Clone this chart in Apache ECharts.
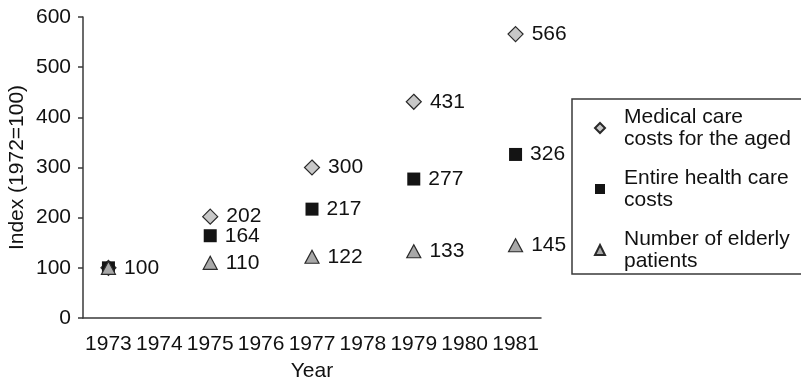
<!DOCTYPE html>
<html>
<head>
<meta charset="utf-8">
<script src="https://cdn.jsdelivr.net/npm/echarts@6/dist/echarts.min.js"></script>
<style>
  html, body { margin: 0; padding: 0; background: #fff; }
  #chart { width: 801px; height: 379px; }
</style>
</head>
<body>
<div id="chart"></div>
<script>
// Years on the category axis
const years = ['1973', '1974', '1975', '1976', '1977', '1978', '1979', '1980', '1981'];
// Index values (1972 = 100), observed every second year
const obsYears = ['1973', '1975', '1977', '1979', '1981'];
const medicalAged = [100, 202, 300, 431, 566];
const healthCare = [100, 164, 217, 277, 326];
const elderlyPatients = [100, 110, 122, 133, 145];
const yTicks = [0, 100, 200, 300, 400, 500, 600];

const FONT = '"Liberation Sans", Arial, sans-serif';
const FS = 21;
const TEXT = '#111';
const AXIS = '#3a3a3a';

// The 1973 value is shared by all three series, so it is labelled once
function points(values, labelFirst) {
  return values.map((v, i) => {
    const item = { value: [obsYears[i], v] };
    if (i === 0 && !labelFirst) item.label = { show: false };
    return item;
  });
}

const labelStyle = {
  show: true,
  position: 'right',
  distance: 8,
  fontFamily: FONT,
  fontSize: FS,
  color: TEXT
};

const chart = echarts.init(document.getElementById('chart'), null, { renderer: 'canvas' });
chart.setOption({
  animation: false,
  textStyle: { fontFamily: FONT, color: TEXT },
  grid: { left: 83, right: 260, top: 17, bottom: 61, containLabel: false, outerBoundsMode: 'none' },
  xAxis: {
    type: 'category',
    data: years,
    boundaryGap: true,
    name: 'Year',
    nameLocation: 'middle',
    nameGap: 43,
    nameMoveOverlap: false,
    nameTextStyle: { fontFamily: FONT, fontSize: FS, color: TEXT },
    axisLine: { lineStyle: { color: AXIS, width: 1.5 } },
    axisTick: { length: 5, lineStyle: { color: AXIS, width: 1.5 } },
    axisLabel: { fontFamily: FONT, fontSize: FS, color: TEXT, margin: 16, interval: 0 },
    splitLine: { show: false }
  },
  yAxis: {
    type: 'value',
    min: yTicks[0],
    max: yTicks[yTicks.length - 1],
    interval: yTicks[1] - yTicks[0],
    name: 'Index (1972=100)',
    nameLocation: 'middle',
    nameGap: 55,
    nameMoveOverlap: false,
    nameTextStyle: { fontFamily: FONT, fontSize: FS, color: TEXT },
    axisLine: { show: true, lineStyle: { color: AXIS, width: 1.5 } },
    axisTick: { show: true, length: 5, lineStyle: { color: AXIS, width: 1.5 } },
    axisLabel: { fontFamily: FONT, fontSize: FS, color: TEXT, margin: 12 },
    splitLine: { show: false }
  },
  legend: {
    orient: 'vertical',
    left: 589,
    top: 90,
    itemWidth: 10,
    itemHeight: 10,
    itemGap: -5,
    selectedMode: false,
    textStyle: {
      fontFamily: FONT,
      fontSize: FS,
      color: TEXT,
      lineHeight: 22,
      padding: [22, 0, 0, 14]
    },
    data: [
      { name: 'Medical care\ncosts for the aged' },
      { name: 'Entire health care\ncosts' },
      { name: 'Number of elderly\npatients' }
    ]
  },
  graphic: [{
    type: 'rect',
    shape: { x: 572, y: 99, width: 240, height: 175 },
    style: { fill: 'none', stroke: AXIS, lineWidth: 1.5 },
    silent: true
  }],
  series: [
    {
      name: 'Medical care\ncosts for the aged',
      type: 'scatter',
      symbol: 'diamond',
      symbolSize: [15, 15],
      itemStyle: { color: '#c8c8c8', borderColor: '#2a2a2a', borderWidth: 1.2, opacity: 1 },
      label: labelStyle,
      data: points(medicalAged, false),
      z: 2
    },
    {
      name: 'Entire health care\ncosts',
      type: 'scatter',
      symbol: 'rect',
      symbolSize: 13,
      itemStyle: { color: '#141414', opacity: 1 },
      label: labelStyle,
      data: points(healthCare, false),
      z: 3
    },
    {
      name: 'Number of elderly\npatients',
      type: 'scatter',
      symbol: 'triangle',
      symbolSize: [14, 13],
      itemStyle: { color: '#a8a8a8', borderColor: '#2a2a2a', borderWidth: 1.2, opacity: 1 },
      label: labelStyle,
      data: points(elderlyPatients, true),
      z: 4
    }
  ]
});
</script>
</body>
</html>
